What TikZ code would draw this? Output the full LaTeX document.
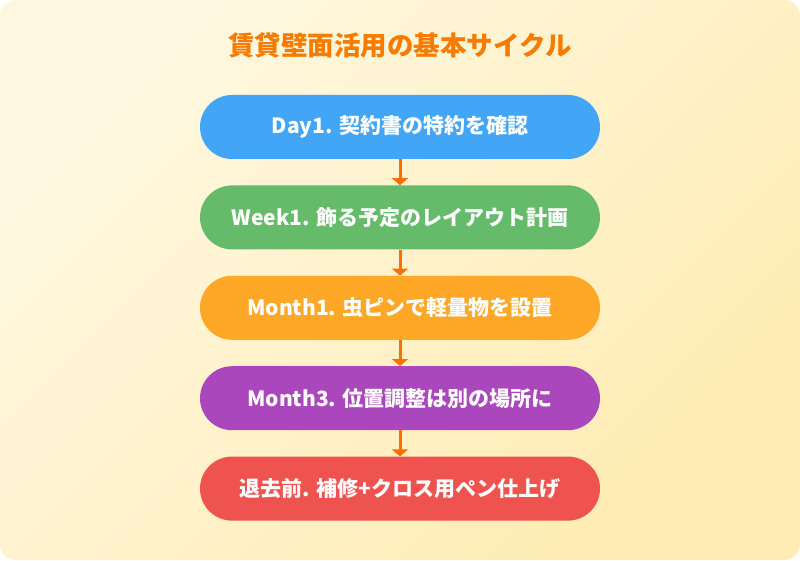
\documentclass[tikz,border=0pt]{standalone}
\usepackage{fontspec}
\setmainfont{Noto Sans CJK JP}
\usetikzlibrary{arrows.meta}
\usetikzlibrary{positioning}
\definecolor{bgtop}{HTML}{FFF8E1}
\definecolor{bgbottom}{HTML}{FFECB3}
\definecolor{titleor}{HTML}{F57C00}
\definecolor{arrowor}{HTML}{FF6F00}
\definecolor{daybl}{HTML}{42A5F5}
\definecolor{weekgr}{HTML}{66BB6A}
\definecolor{monthor}{HTML}{FFA726}
\definecolor{monthpu}{HTML}{AB47BC}
\definecolor{leavered}{HTML}{EF5350}
\tikzset{title/.style = {text = titleor, font = \fontsize{26.5}{30}\selectfont\bfseries}}
\tikzset{stage/.style = {rounded corners = 32pt, minimum width = 400pt, minimum height = 64pt,
                         inner sep = 0, text = white, font = \fontsize{21}{25}\selectfont\bfseries}}
\tikzset{flow/.style = {draw = arrowor, line width = 3pt, -{Triangle[width = 16pt, length = 7pt]}}}

\begin{document}
\begin{tikzpicture}[x=1pt, y=1pt]
      \useasboundingbox (0, 0) rectangle (800, 560);
      \shade [rounded corners = 16pt, top color = bgtop, bottom color = bgbottom, shading angle = 45]
      (0, 0) rectangle (800, 560);
      \node [title] (title) at (400, 515) {賃貸壁面活用の基本サイクル};

      \node [stage, fill = daybl] (day) at (400, 433) {Day1. 契約書の特約を確認};
      \node [stage, fill = weekgr, below = 26pt of day] (week) {Week1. 飾る予定のレイアウト計画};
      \node [stage, fill = monthor, below = 26pt of week] (month) {Month1. 虫ピンで軽量物を設置};
      \node [stage, fill = monthpu, below = 26pt of month] (monththree) {Month3. 位置調整は別の場所に};
      \node [stage, fill = leavered, below = 26pt of monththree] (leave) {退去前. 補修+クロス用ペン仕上げ};

      \draw [flow] (day) -- (week);
      \draw [flow] (week) -- (month);
      \draw [flow] (month) -- (monththree);
      \draw [flow] (monththree) -- (leave);
    \end{tikzpicture}
\end{document}
